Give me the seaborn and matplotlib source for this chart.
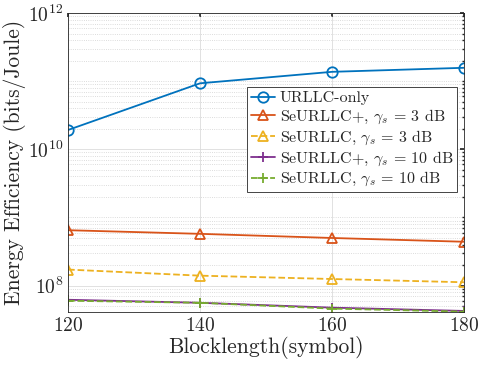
import numpy as np
import pandas as pd
import seaborn as sns
import matplotlib
matplotlib.use("Agg")
import matplotlib.pyplot as plt
from matplotlib.ticker import NullFormatter, FixedLocator

blocklength = [120, 140, 160, 180]
urllc_only = [1.92e10, 9.3e10, 1.37e11, 1.57e11]
seurllc_plus_3db = [6.5e8, 5.75e8, 5.0e8, 4.4e8]
seurllc_3db = [1.72e8, 1.40e8, 1.25e8, 1.12e8]
seurllc_plus_10db = [6.2e7, 5.6e7, 4.75e7, 4.25e7]
seurllc_10db = [6.0e7, 5.6e7, 4.6e7, 4.15e7]

labels = ["URLLC-only",
          r"SeURLLC+, $\gamma_s$ = 3 dB",
          r"SeURLLC, $\gamma_s$ = 3 dB",
          r"SeURLLC+, $\gamma_s$ = 10 dB",
          r"SeURLLC, $\gamma_s$ = 10 dB"]
series = [urllc_only, seurllc_plus_3db, seurllc_3db, seurllc_plus_10db, seurllc_10db]
colors = ["#0072BD", "#D95319", "#EDB120", "#7E2F8E", "#77AC30"]
markers = ["o", "^", "^", "+", "+"]
styles = ["-", "-", "--", "-", "--"]

sns.set_theme(style="white")
plt.rcParams["font.family"] = "serif"
plt.rcParams["font.serif"] = ["cmr10"]
plt.rcParams["mathtext.fontset"] = "cm"
plt.rcParams["axes.formatter.use_mathtext"] = True

fig = plt.figure(figsize=(4.79, 3.71), dpi=100)
ax = fig.add_axes([0.142, 0.159, 0.827, 0.806])

for lab, vals, c, m, ls in zip(labels, series, colors, markers, styles):
    df = pd.DataFrame({"x": blocklength, "y": vals})
    sns.lineplot(data=df, x="x", y="y", ax=ax, color=c, marker=m, linestyle=ls,
                 linewidth=1.3, markersize=7.5, markerfacecolor="none",
                 markeredgecolor=c, markeredgewidth=1.3, label=lab)

ax.set_yscale("log")
ax.set_xlim(120, 180)
ax.set_ylim(4.1e7, 1e12)
ax.set_xticks([120, 140, 160, 180])
ax.yaxis.set_major_locator(FixedLocator([1e8, 1e10, 1e12]))
minor = [k * 10.0**e for e in range(7, 12) for k in range(1, 10)]
minor = [v for v in minor if v not in (1e8, 1e10, 1e12)]
ax.yaxis.set_minor_locator(FixedLocator(minor))
ax.yaxis.set_minor_formatter(NullFormatter())
ax.set_yticklabels([r"$10^{8}$", r"$10^{10}$", r"$10^{12}$"])

ax.grid(True, which="major", color="#dcdcdc", linewidth=0.6)
ax.grid(True, which="minor", axis="y", color="#d0d0d0", linestyle=":", linewidth=0.6)
ax.set_axisbelow(True)
for s in ax.spines.values():
    s.set_color("#262626")
    s.set_linewidth(0.6)
ax.tick_params(direction="in", which="both", top=True, right=True, labelsize=14,
               color="#262626", length=3)
ax.tick_params(which="minor", length=1.8)

ax.set_xlabel("Blocklength(symbol)", fontsize=15.5, labelpad=1)
ax.set_ylabel("Energy Efficiency (bits/Joule)", fontsize=15.5, labelpad=1)

leg = ax.legend(loc="upper right", bbox_to_anchor=(0.982, 0.752), fontsize=11.5,
                frameon=True, fancybox=False, edgecolor="#262626", framealpha=1,
                handlelength=1.5, handletextpad=0.3, borderpad=0.25, labelspacing=0.15,
                borderaxespad=0)
leg.get_frame().set_linewidth(0.6)

fig.savefig("out.png", dpi=100)
